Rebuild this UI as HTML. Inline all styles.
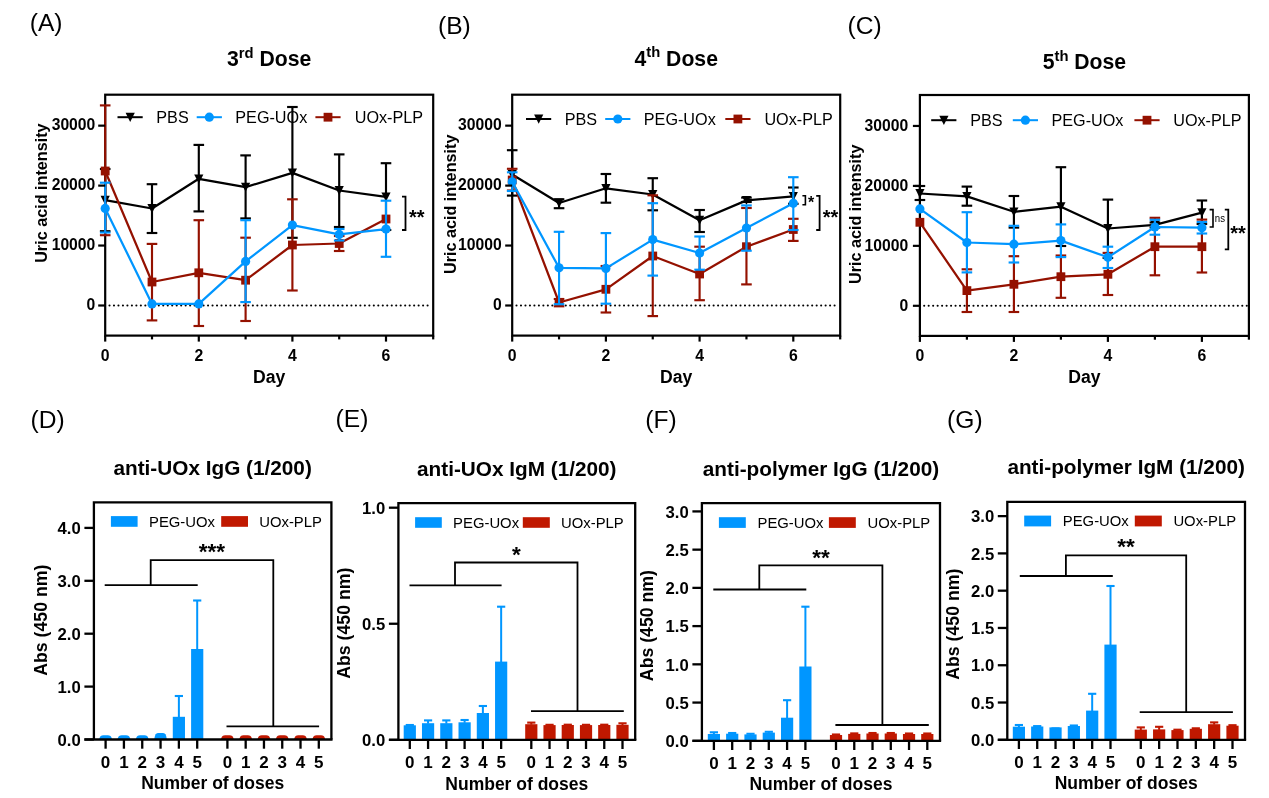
<!DOCTYPE html>
<html lang="en"><head><meta charset="utf-8"><title>Figure</title>
<style>html,body{margin:0;padding:0;background:#fff}svg{display:block}</style></head>
<body>
<svg width="1269" height="798" viewBox="0 0 1269 798" font-family='"Liberation Sans", sans-serif'>
<rect width="1269" height="798" fill="#fff"/>
<line x1="109.5" y1="305.5" x2="431.7" y2="305.5" stroke="#000" stroke-width="2.1" stroke-dasharray="0.01 4.47" stroke-linecap="round"/>
<rect x="105.2" y="94.7" width="328" height="240.9" fill="none" stroke="#000" stroke-width="2.2"/>
<line x1="105.2" y1="169" x2="105.2" y2="231.2" stroke="#000" stroke-width="2.15" />
<line x1="99.9" y1="169" x2="110.5" y2="169" stroke="#000" stroke-width="2.15" />
<line x1="99.9" y1="231.2" x2="110.5" y2="231.2" stroke="#000" stroke-width="2.15" />
<line x1="152" y1="184.2" x2="152" y2="233" stroke="#000" stroke-width="2.15" />
<line x1="146.7" y1="184.2" x2="157.3" y2="184.2" stroke="#000" stroke-width="2.15" />
<line x1="146.7" y1="233" x2="157.3" y2="233" stroke="#000" stroke-width="2.15" />
<line x1="198.8" y1="144.9" x2="198.8" y2="211.4" stroke="#000" stroke-width="2.15" />
<line x1="193.5" y1="144.9" x2="204.1" y2="144.9" stroke="#000" stroke-width="2.15" />
<line x1="193.5" y1="211.4" x2="204.1" y2="211.4" stroke="#000" stroke-width="2.15" />
<line x1="245.6" y1="155.4" x2="245.6" y2="218.4" stroke="#000" stroke-width="2.15" />
<line x1="240.3" y1="155.4" x2="250.9" y2="155.4" stroke="#000" stroke-width="2.15" />
<line x1="240.3" y1="218.4" x2="250.9" y2="218.4" stroke="#000" stroke-width="2.15" />
<line x1="292.4" y1="107" x2="292.4" y2="237.8" stroke="#000" stroke-width="2.15" />
<line x1="287.1" y1="107" x2="297.7" y2="107" stroke="#000" stroke-width="2.15" />
<line x1="287.1" y1="237.8" x2="297.7" y2="237.8" stroke="#000" stroke-width="2.15" />
<line x1="339.2" y1="154.4" x2="339.2" y2="227" stroke="#000" stroke-width="2.15" />
<line x1="333.9" y1="154.4" x2="344.5" y2="154.4" stroke="#000" stroke-width="2.15" />
<line x1="333.9" y1="227" x2="344.5" y2="227" stroke="#000" stroke-width="2.15" />
<line x1="386" y1="163.2" x2="386" y2="230" stroke="#000" stroke-width="2.15" />
<line x1="380.7" y1="163.2" x2="391.3" y2="163.2" stroke="#000" stroke-width="2.15" />
<line x1="380.7" y1="230" x2="391.3" y2="230" stroke="#000" stroke-width="2.15" />
<polyline points="105.2,200.2 152,208.5 198.8,178.8 245.6,187.1 292.4,172.9 339.2,190.5 386,196.9" fill="none" stroke="#000" stroke-width="2.25" stroke-linejoin="round"/>
<polygon points="100.6,195.8 109.8,195.8 105.2,204.9" fill="#000"/>
<polygon points="147.4,204.1 156.6,204.1 152,213.2" fill="#000"/>
<polygon points="194.2,174.4 203.4,174.4 198.8,183.5" fill="#000"/>
<polygon points="241,182.7 250.2,182.7 245.6,191.8" fill="#000"/>
<polygon points="287.8,168.5 297,168.5 292.4,177.6" fill="#000"/>
<polygon points="334.6,186.1 343.8,186.1 339.2,195.2" fill="#000"/>
<polygon points="381.4,192.5 390.6,192.5 386,201.6" fill="#000"/>
<line x1="105.2" y1="105.4" x2="105.2" y2="235.2" stroke="#941100" stroke-width="2.15" />
<line x1="99.9" y1="105.4" x2="110.5" y2="105.4" stroke="#941100" stroke-width="2.15" />
<line x1="99.9" y1="235.2" x2="110.5" y2="235.2" stroke="#941100" stroke-width="2.15" />
<line x1="152" y1="243.9" x2="152" y2="320.4" stroke="#941100" stroke-width="2.15" />
<line x1="146.7" y1="243.9" x2="157.3" y2="243.9" stroke="#941100" stroke-width="2.15" />
<line x1="146.7" y1="320.4" x2="157.3" y2="320.4" stroke="#941100" stroke-width="2.15" />
<line x1="198.8" y1="220.2" x2="198.8" y2="326" stroke="#941100" stroke-width="2.15" />
<line x1="193.5" y1="220.2" x2="204.1" y2="220.2" stroke="#941100" stroke-width="2.15" />
<line x1="193.5" y1="326" x2="204.1" y2="326" stroke="#941100" stroke-width="2.15" />
<line x1="245.6" y1="237.7" x2="245.6" y2="321" stroke="#941100" stroke-width="2.15" />
<line x1="240.3" y1="237.7" x2="250.9" y2="237.7" stroke="#941100" stroke-width="2.15" />
<line x1="240.3" y1="321" x2="250.9" y2="321" stroke="#941100" stroke-width="2.15" />
<line x1="292.4" y1="199.3" x2="292.4" y2="290.5" stroke="#941100" stroke-width="2.15" />
<line x1="287.1" y1="199.3" x2="297.7" y2="199.3" stroke="#941100" stroke-width="2.15" />
<line x1="287.1" y1="290.5" x2="297.7" y2="290.5" stroke="#941100" stroke-width="2.15" />
<line x1="339.2" y1="236" x2="339.2" y2="251" stroke="#941100" stroke-width="2.15" />
<line x1="333.9" y1="236" x2="344.5" y2="236" stroke="#941100" stroke-width="2.15" />
<line x1="333.9" y1="251" x2="344.5" y2="251" stroke="#941100" stroke-width="2.15" />
<polyline points="105.2,171 152,282 198.8,272.8 245.6,280.2 292.4,245 339.2,243.5 386,219" fill="none" stroke="#941100" stroke-width="2.25" stroke-linejoin="round"/>
<rect x="100.8" y="166.6" width="8.8" height="8.8" fill="#941100"/>
<rect x="147.6" y="277.6" width="8.8" height="8.8" fill="#941100"/>
<rect x="194.4" y="268.4" width="8.8" height="8.8" fill="#941100"/>
<rect x="241.2" y="275.8" width="8.8" height="8.8" fill="#941100"/>
<rect x="288" y="240.6" width="8.8" height="8.8" fill="#941100"/>
<rect x="334.8" y="239.1" width="8.8" height="8.8" fill="#941100"/>
<rect x="381.6" y="214.6" width="8.8" height="8.8" fill="#941100"/>
<line x1="105.2" y1="182.7" x2="105.2" y2="232.5" stroke="#0096ff" stroke-width="2.15" />
<line x1="99.9" y1="182.7" x2="110.5" y2="182.7" stroke="#0096ff" stroke-width="2.15" />
<line x1="99.9" y1="232.5" x2="110.5" y2="232.5" stroke="#0096ff" stroke-width="2.15" />
<line x1="245.6" y1="220.2" x2="245.6" y2="302.1" stroke="#0096ff" stroke-width="2.15" />
<line x1="240.3" y1="220.2" x2="250.9" y2="220.2" stroke="#0096ff" stroke-width="2.15" />
<line x1="240.3" y1="302.1" x2="250.9" y2="302.1" stroke="#0096ff" stroke-width="2.15" />
<line x1="339.2" y1="229" x2="339.2" y2="240.5" stroke="#0096ff" stroke-width="2.15" />
<line x1="333.9" y1="229" x2="344.5" y2="229" stroke="#0096ff" stroke-width="2.15" />
<line x1="333.9" y1="240.5" x2="344.5" y2="240.5" stroke="#0096ff" stroke-width="2.15" />
<line x1="386" y1="200.7" x2="386" y2="256.8" stroke="#0096ff" stroke-width="2.15" />
<line x1="380.7" y1="200.7" x2="391.3" y2="200.7" stroke="#0096ff" stroke-width="2.15" />
<line x1="380.7" y1="256.8" x2="391.3" y2="256.8" stroke="#0096ff" stroke-width="2.15" />
<polyline points="105.2,208.4 152,303.9 198.8,303.9 245.6,261.4 292.4,225.1 339.2,234.4 386,229.1" fill="none" stroke="#0096ff" stroke-width="2.25" stroke-linejoin="round"/>
<circle cx="105.2" cy="208.4" r="4.6" fill="#0096ff"/>
<circle cx="152" cy="303.9" r="4.6" fill="#0096ff"/>
<circle cx="198.8" cy="303.9" r="4.6" fill="#0096ff"/>
<circle cx="245.6" cy="261.4" r="4.6" fill="#0096ff"/>
<circle cx="292.4" cy="225.1" r="4.6" fill="#0096ff"/>
<circle cx="339.2" cy="234.4" r="4.6" fill="#0096ff"/>
<circle cx="386" cy="229.1" r="4.6" fill="#0096ff"/>
<line x1="98.2" y1="305.5" x2="105.2" y2="305.5" stroke="#000" stroke-width="2.2" />
<text x="95.3" y="310.2" font-size="15.7" text-anchor="end" fill="#000" font-weight="bold">0</text>
<line x1="98.2" y1="245.55" x2="105.2" y2="245.55" stroke="#000" stroke-width="2.2" />
<text x="95.3" y="250.25" font-size="15.7" text-anchor="end" fill="#000" font-weight="bold">10000</text>
<line x1="98.2" y1="185.6" x2="105.2" y2="185.6" stroke="#000" stroke-width="2.2" />
<text x="95.3" y="190.3" font-size="15.7" text-anchor="end" fill="#000" font-weight="bold">20000</text>
<line x1="98.2" y1="125.65" x2="105.2" y2="125.65" stroke="#000" stroke-width="2.2" />
<text x="95.3" y="130.35" font-size="15.7" text-anchor="end" fill="#000" font-weight="bold">30000</text>
<line x1="105.2" y1="335.6" x2="105.2" y2="341.6" stroke="#000" stroke-width="2.2" />
<text x="105.2" y="361.2" font-size="15.8" text-anchor="middle" fill="#000" font-weight="bold">0</text>
<line x1="152" y1="335.6" x2="152" y2="339.4" stroke="#000" stroke-width="2.2" />
<line x1="198.8" y1="335.6" x2="198.8" y2="341.6" stroke="#000" stroke-width="2.2" />
<text x="198.8" y="361.2" font-size="15.8" text-anchor="middle" fill="#000" font-weight="bold">2</text>
<line x1="245.6" y1="335.6" x2="245.6" y2="339.4" stroke="#000" stroke-width="2.2" />
<line x1="292.4" y1="335.6" x2="292.4" y2="341.6" stroke="#000" stroke-width="2.2" />
<text x="292.4" y="361.2" font-size="15.8" text-anchor="middle" fill="#000" font-weight="bold">4</text>
<line x1="339.2" y1="335.6" x2="339.2" y2="339.4" stroke="#000" stroke-width="2.2" />
<line x1="386" y1="335.6" x2="386" y2="341.6" stroke="#000" stroke-width="2.2" />
<text x="386" y="361.2" font-size="15.8" text-anchor="middle" fill="#000" font-weight="bold">6</text>
<line x1="433.2" y1="335.6" x2="433.2" y2="339.4" stroke="#000" stroke-width="2.2" />
<text x="269.2" y="382.7" font-size="17.6" text-anchor="middle" fill="#000" font-weight="bold">Day</text>
<text x="47" y="193.1" font-size="16.2" text-anchor="middle" fill="#000" font-weight="bold" transform="rotate(-90 47 193.1)">Uric acid intensity</text>
<text x="269.2" y="66" font-size="21.2" font-weight="bold" text-anchor="middle">3<tspan font-size="14.8" dy="-8.4">rd</tspan><tspan dy="8.4"> Dose</tspan></text>
<text x="29.7" y="30.6" font-size="24.6" text-anchor="start" fill="#000">(A)</text>
<line x1="117.5" y1="117.2" x2="142.7" y2="117.2" stroke="#000" stroke-width="2" />
<polygon points="125.6,112.8 134.8,112.8 130.2,121.9" fill="#000"/>
<text x="156.3" y="123" font-size="16.2" text-anchor="start" fill="#000">PBS</text>
<line x1="196.7" y1="117.2" x2="221.9" y2="117.2" stroke="#0096ff" stroke-width="2" />
<circle cx="209.3" cy="117.2" r="4.6" fill="#0096ff"/>
<text x="235.3" y="123" font-size="16.2" text-anchor="start" fill="#000">PEG-UOx</text>
<line x1="315.4" y1="117.2" x2="340.6" y2="117.2" stroke="#941100" stroke-width="2" />
<rect x="323.6" y="112.8" width="8.8" height="8.8" fill="#941100"/>
<text x="354.7" y="123" font-size="16.2" text-anchor="start" fill="#000">UOx-PLP</text>
<line x1="516.5" y1="305.5" x2="838.7" y2="305.5" stroke="#000" stroke-width="2.1" stroke-dasharray="0.01 4.47" stroke-linecap="round"/>
<rect x="512.2" y="94.7" width="328" height="240.9" fill="none" stroke="#000" stroke-width="2.2"/>
<line x1="512.2" y1="150.2" x2="512.2" y2="195.6" stroke="#000" stroke-width="2.15" />
<line x1="506.9" y1="150.2" x2="517.5" y2="150.2" stroke="#000" stroke-width="2.15" />
<line x1="506.9" y1="195.6" x2="517.5" y2="195.6" stroke="#000" stroke-width="2.15" />
<line x1="559.05" y1="199.3" x2="559.05" y2="208.2" stroke="#000" stroke-width="2.15" />
<line x1="553.75" y1="199.3" x2="564.35" y2="199.3" stroke="#000" stroke-width="2.15" />
<line x1="553.75" y1="208.2" x2="564.35" y2="208.2" stroke="#000" stroke-width="2.15" />
<line x1="605.9" y1="174" x2="605.9" y2="202.7" stroke="#000" stroke-width="2.15" />
<line x1="600.6" y1="174" x2="611.2" y2="174" stroke="#000" stroke-width="2.15" />
<line x1="600.6" y1="202.7" x2="611.2" y2="202.7" stroke="#000" stroke-width="2.15" />
<line x1="652.75" y1="178.2" x2="652.75" y2="210.3" stroke="#000" stroke-width="2.15" />
<line x1="647.45" y1="178.2" x2="658.05" y2="178.2" stroke="#000" stroke-width="2.15" />
<line x1="647.45" y1="210.3" x2="658.05" y2="210.3" stroke="#000" stroke-width="2.15" />
<line x1="699.6" y1="210" x2="699.6" y2="232" stroke="#000" stroke-width="2.15" />
<line x1="694.3" y1="210" x2="704.9" y2="210" stroke="#000" stroke-width="2.15" />
<line x1="694.3" y1="232" x2="704.9" y2="232" stroke="#000" stroke-width="2.15" />
<line x1="746.45" y1="197.6" x2="746.45" y2="202" stroke="#000" stroke-width="2.15" />
<line x1="741.15" y1="197.6" x2="751.75" y2="197.6" stroke="#000" stroke-width="2.15" />
<line x1="741.15" y1="202" x2="751.75" y2="202" stroke="#000" stroke-width="2.15" />
<line x1="793.3" y1="187.5" x2="793.3" y2="203.8" stroke="#000" stroke-width="2.15" />
<line x1="788" y1="187.5" x2="798.6" y2="187.5" stroke="#000" stroke-width="2.15" />
<line x1="788" y1="203.8" x2="798.6" y2="203.8" stroke="#000" stroke-width="2.15" />
<polyline points="512.2,174.5 559.05,203 605.9,188.3 652.75,194.5 699.6,220.2 746.45,200.4 793.3,196.4" fill="none" stroke="#000" stroke-width="2.25" stroke-linejoin="round"/>
<polygon points="507.6,170.1 516.8,170.1 512.2,179.2" fill="#000"/>
<polygon points="554.45,198.6 563.65,198.6 559.05,207.7" fill="#000"/>
<polygon points="601.3,183.9 610.5,183.9 605.9,193" fill="#000"/>
<polygon points="648.15,190.1 657.35,190.1 652.75,199.2" fill="#000"/>
<polygon points="695,215.8 704.2,215.8 699.6,224.9" fill="#000"/>
<polygon points="741.85,196 751.05,196 746.45,205.1" fill="#000"/>
<polygon points="788.7,192 797.9,192 793.3,201.1" fill="#000"/>
<line x1="512.2" y1="168.8" x2="512.2" y2="190.5" stroke="#941100" stroke-width="2.15" />
<line x1="506.9" y1="168.8" x2="517.5" y2="168.8" stroke="#941100" stroke-width="2.15" />
<line x1="506.9" y1="190.5" x2="517.5" y2="190.5" stroke="#941100" stroke-width="2.15" />
<line x1="559.05" y1="299" x2="559.05" y2="306.3" stroke="#941100" stroke-width="2.15" />
<line x1="553.75" y1="299" x2="564.35" y2="299" stroke="#941100" stroke-width="2.15" />
<line x1="553.75" y1="306.3" x2="564.35" y2="306.3" stroke="#941100" stroke-width="2.15" />
<line x1="605.9" y1="266" x2="605.9" y2="312.5" stroke="#941100" stroke-width="2.15" />
<line x1="600.6" y1="266" x2="611.2" y2="266" stroke="#941100" stroke-width="2.15" />
<line x1="600.6" y1="312.5" x2="611.2" y2="312.5" stroke="#941100" stroke-width="2.15" />
<line x1="652.75" y1="195.3" x2="652.75" y2="316.1" stroke="#941100" stroke-width="2.15" />
<line x1="647.45" y1="195.3" x2="658.05" y2="195.3" stroke="#941100" stroke-width="2.15" />
<line x1="647.45" y1="316.1" x2="658.05" y2="316.1" stroke="#941100" stroke-width="2.15" />
<line x1="699.6" y1="246.7" x2="699.6" y2="300.2" stroke="#941100" stroke-width="2.15" />
<line x1="694.3" y1="246.7" x2="704.9" y2="246.7" stroke="#941100" stroke-width="2.15" />
<line x1="694.3" y1="300.2" x2="704.9" y2="300.2" stroke="#941100" stroke-width="2.15" />
<line x1="746.45" y1="208" x2="746.45" y2="284.4" stroke="#941100" stroke-width="2.15" />
<line x1="741.15" y1="208" x2="751.75" y2="208" stroke="#941100" stroke-width="2.15" />
<line x1="741.15" y1="284.4" x2="751.75" y2="284.4" stroke="#941100" stroke-width="2.15" />
<line x1="793.3" y1="218.8" x2="793.3" y2="240.9" stroke="#941100" stroke-width="2.15" />
<line x1="788" y1="218.8" x2="798.6" y2="218.8" stroke="#941100" stroke-width="2.15" />
<line x1="788" y1="240.9" x2="798.6" y2="240.9" stroke="#941100" stroke-width="2.15" />
<polyline points="512.2,180 559.05,302.5 605.9,289.3 652.75,256 699.6,274 746.45,246.7 793.3,229.5" fill="none" stroke="#941100" stroke-width="2.25" stroke-linejoin="round"/>
<rect x="507.8" y="175.6" width="8.8" height="8.8" fill="#941100"/>
<rect x="554.65" y="298.1" width="8.8" height="8.8" fill="#941100"/>
<rect x="601.5" y="284.9" width="8.8" height="8.8" fill="#941100"/>
<rect x="648.35" y="251.6" width="8.8" height="8.8" fill="#941100"/>
<rect x="695.2" y="269.6" width="8.8" height="8.8" fill="#941100"/>
<rect x="742.05" y="242.3" width="8.8" height="8.8" fill="#941100"/>
<rect x="788.9" y="225.1" width="8.8" height="8.8" fill="#941100"/>
<line x1="512.2" y1="172.3" x2="512.2" y2="191" stroke="#0096ff" stroke-width="2.15" />
<line x1="506.9" y1="172.3" x2="517.5" y2="172.3" stroke="#0096ff" stroke-width="2.15" />
<line x1="506.9" y1="191" x2="517.5" y2="191" stroke="#0096ff" stroke-width="2.15" />
<line x1="559.05" y1="231.8" x2="559.05" y2="304.2" stroke="#0096ff" stroke-width="2.15" />
<line x1="553.75" y1="231.8" x2="564.35" y2="231.8" stroke="#0096ff" stroke-width="2.15" />
<line x1="553.75" y1="304.2" x2="564.35" y2="304.2" stroke="#0096ff" stroke-width="2.15" />
<line x1="605.9" y1="233.1" x2="605.9" y2="303.7" stroke="#0096ff" stroke-width="2.15" />
<line x1="600.6" y1="233.1" x2="611.2" y2="233.1" stroke="#0096ff" stroke-width="2.15" />
<line x1="600.6" y1="303.7" x2="611.2" y2="303.7" stroke="#0096ff" stroke-width="2.15" />
<line x1="652.75" y1="203.2" x2="652.75" y2="275.6" stroke="#0096ff" stroke-width="2.15" />
<line x1="647.45" y1="203.2" x2="658.05" y2="203.2" stroke="#0096ff" stroke-width="2.15" />
<line x1="647.45" y1="275.6" x2="658.05" y2="275.6" stroke="#0096ff" stroke-width="2.15" />
<line x1="699.6" y1="236.5" x2="699.6" y2="269.7" stroke="#0096ff" stroke-width="2.15" />
<line x1="694.3" y1="236.5" x2="704.9" y2="236.5" stroke="#0096ff" stroke-width="2.15" />
<line x1="694.3" y1="269.7" x2="704.9" y2="269.7" stroke="#0096ff" stroke-width="2.15" />
<line x1="746.45" y1="205.4" x2="746.45" y2="250.7" stroke="#0096ff" stroke-width="2.15" />
<line x1="741.15" y1="205.4" x2="751.75" y2="205.4" stroke="#0096ff" stroke-width="2.15" />
<line x1="741.15" y1="250.7" x2="751.75" y2="250.7" stroke="#0096ff" stroke-width="2.15" />
<line x1="793.3" y1="177.2" x2="793.3" y2="230" stroke="#0096ff" stroke-width="2.15" />
<line x1="788" y1="177.2" x2="798.6" y2="177.2" stroke="#0096ff" stroke-width="2.15" />
<line x1="788" y1="230" x2="798.6" y2="230" stroke="#0096ff" stroke-width="2.15" />
<polyline points="512.2,181.8 559.05,267.8 605.9,268.4 652.75,239.6 699.6,253 746.45,228 793.3,203.3" fill="none" stroke="#0096ff" stroke-width="2.25" stroke-linejoin="round"/>
<circle cx="512.2" cy="181.8" r="4.6" fill="#0096ff"/>
<circle cx="559.05" cy="267.8" r="4.6" fill="#0096ff"/>
<circle cx="605.9" cy="268.4" r="4.6" fill="#0096ff"/>
<circle cx="652.75" cy="239.6" r="4.6" fill="#0096ff"/>
<circle cx="699.6" cy="253" r="4.6" fill="#0096ff"/>
<circle cx="746.45" cy="228" r="4.6" fill="#0096ff"/>
<circle cx="793.3" cy="203.3" r="4.6" fill="#0096ff"/>
<line x1="505.2" y1="305.5" x2="512.2" y2="305.5" stroke="#000" stroke-width="2.2" />
<text x="501.7" y="310.2" font-size="15.7" text-anchor="end" fill="#000" font-weight="bold">0</text>
<line x1="505.2" y1="245.55" x2="512.2" y2="245.55" stroke="#000" stroke-width="2.2" />
<text x="501.7" y="250.25" font-size="15.7" text-anchor="end" fill="#000" font-weight="bold">10000</text>
<line x1="505.2" y1="185.6" x2="512.2" y2="185.6" stroke="#000" stroke-width="2.2" />
<text x="501.7" y="190.3" font-size="15.7" text-anchor="end" fill="#000" font-weight="bold">20000</text>
<line x1="505.2" y1="125.65" x2="512.2" y2="125.65" stroke="#000" stroke-width="2.2" />
<text x="501.7" y="130.35" font-size="15.7" text-anchor="end" fill="#000" font-weight="bold">30000</text>
<line x1="512.2" y1="335.6" x2="512.2" y2="341.6" stroke="#000" stroke-width="2.2" />
<text x="512.2" y="361.2" font-size="15.8" text-anchor="middle" fill="#000" font-weight="bold">0</text>
<line x1="559.05" y1="335.6" x2="559.05" y2="339.4" stroke="#000" stroke-width="2.2" />
<line x1="605.9" y1="335.6" x2="605.9" y2="341.6" stroke="#000" stroke-width="2.2" />
<text x="605.9" y="361.2" font-size="15.8" text-anchor="middle" fill="#000" font-weight="bold">2</text>
<line x1="652.75" y1="335.6" x2="652.75" y2="339.4" stroke="#000" stroke-width="2.2" />
<line x1="699.6" y1="335.6" x2="699.6" y2="341.6" stroke="#000" stroke-width="2.2" />
<text x="699.6" y="361.2" font-size="15.8" text-anchor="middle" fill="#000" font-weight="bold">4</text>
<line x1="746.45" y1="335.6" x2="746.45" y2="339.4" stroke="#000" stroke-width="2.2" />
<line x1="793.3" y1="335.6" x2="793.3" y2="341.6" stroke="#000" stroke-width="2.2" />
<text x="793.3" y="361.2" font-size="15.8" text-anchor="middle" fill="#000" font-weight="bold">6</text>
<line x1="840.2" y1="335.6" x2="840.2" y2="339.4" stroke="#000" stroke-width="2.2" />
<text x="676.2" y="382.7" font-size="17.6" text-anchor="middle" fill="#000" font-weight="bold">Day</text>
<text x="456.4" y="204.3" font-size="16.2" text-anchor="middle" fill="#000" font-weight="bold" transform="rotate(-90 456.4 204.3)">Uric acid intensity</text>
<text x="676.2" y="65.6" font-size="21.2" font-weight="bold" text-anchor="middle">4<tspan font-size="14.8" dy="-8.4">th</tspan><tspan dy="8.4"> Dose</tspan></text>
<text x="438" y="33.5" font-size="24.6" text-anchor="start" fill="#000">(B)</text>
<line x1="526" y1="119" x2="551.2" y2="119" stroke="#000" stroke-width="2" />
<polygon points="534.1,114.6 543.3,114.6 538.7,123.7" fill="#000"/>
<text x="564.7" y="124.8" font-size="16.2" text-anchor="start" fill="#000">PBS</text>
<line x1="605.2" y1="119" x2="630.4" y2="119" stroke="#0096ff" stroke-width="2" />
<circle cx="617.8" cy="119" r="4.6" fill="#0096ff"/>
<text x="643.8" y="124.8" font-size="16.2" text-anchor="start" fill="#000">PEG-UOx</text>
<line x1="725.3" y1="119" x2="750.5" y2="119" stroke="#941100" stroke-width="2" />
<rect x="733.5" y="114.6" width="8.8" height="8.8" fill="#941100"/>
<text x="764.4" y="124.8" font-size="16.2" text-anchor="start" fill="#000">UOx-PLP</text>
<line x1="924.2" y1="305.8" x2="1247.4" y2="305.8" stroke="#000" stroke-width="2.1" stroke-dasharray="0.01 4.47" stroke-linecap="round"/>
<rect x="919.9" y="95" width="329" height="240.9" fill="none" stroke="#000" stroke-width="2.2"/>
<line x1="919.9" y1="186" x2="919.9" y2="200" stroke="#000" stroke-width="2.15" />
<line x1="914.6" y1="186" x2="925.2" y2="186" stroke="#000" stroke-width="2.15" />
<line x1="914.6" y1="200" x2="925.2" y2="200" stroke="#000" stroke-width="2.15" />
<line x1="966.9" y1="186.6" x2="966.9" y2="205.7" stroke="#000" stroke-width="2.15" />
<line x1="961.6" y1="186.6" x2="972.2" y2="186.6" stroke="#000" stroke-width="2.15" />
<line x1="961.6" y1="205.7" x2="972.2" y2="205.7" stroke="#000" stroke-width="2.15" />
<line x1="1013.9" y1="196" x2="1013.9" y2="227.6" stroke="#000" stroke-width="2.15" />
<line x1="1008.6" y1="196" x2="1019.2" y2="196" stroke="#000" stroke-width="2.15" />
<line x1="1008.6" y1="227.6" x2="1019.2" y2="227.6" stroke="#000" stroke-width="2.15" />
<line x1="1060.9" y1="167.2" x2="1060.9" y2="246" stroke="#000" stroke-width="2.15" />
<line x1="1055.6" y1="167.2" x2="1066.2" y2="167.2" stroke="#000" stroke-width="2.15" />
<line x1="1055.6" y1="246" x2="1066.2" y2="246" stroke="#000" stroke-width="2.15" />
<line x1="1107.9" y1="199.6" x2="1107.9" y2="258" stroke="#000" stroke-width="2.15" />
<line x1="1102.6" y1="199.6" x2="1113.2" y2="199.6" stroke="#000" stroke-width="2.15" />
<line x1="1102.6" y1="258" x2="1113.2" y2="258" stroke="#000" stroke-width="2.15" />
<line x1="1154.9" y1="222.5" x2="1154.9" y2="227.5" stroke="#000" stroke-width="2.15" />
<line x1="1149.6" y1="222.5" x2="1160.2" y2="222.5" stroke="#000" stroke-width="2.15" />
<line x1="1149.6" y1="227.5" x2="1160.2" y2="227.5" stroke="#000" stroke-width="2.15" />
<line x1="1201.9" y1="200.5" x2="1201.9" y2="224" stroke="#000" stroke-width="2.15" />
<line x1="1196.6" y1="200.5" x2="1207.2" y2="200.5" stroke="#000" stroke-width="2.15" />
<line x1="1196.6" y1="224" x2="1207.2" y2="224" stroke="#000" stroke-width="2.15" />
<polyline points="919.9,193.5 966.9,196.4 1013.9,211.8 1060.9,206.7 1107.9,228.5 1154.9,224.8 1201.9,212.6" fill="none" stroke="#000" stroke-width="2.25" stroke-linejoin="round"/>
<polygon points="915.3,189.1 924.5,189.1 919.9,198.2" fill="#000"/>
<polygon points="962.3,192 971.5,192 966.9,201.1" fill="#000"/>
<polygon points="1009.3,207.4 1018.5,207.4 1013.9,216.5" fill="#000"/>
<polygon points="1056.3,202.3 1065.5,202.3 1060.9,211.4" fill="#000"/>
<polygon points="1103.3,224.1 1112.5,224.1 1107.9,233.2" fill="#000"/>
<polygon points="1150.3,220.4 1159.5,220.4 1154.9,229.5" fill="#000"/>
<polygon points="1197.3,208.2 1206.5,208.2 1201.9,217.3" fill="#000"/>
<line x1="966.9" y1="269.3" x2="966.9" y2="312" stroke="#941100" stroke-width="2.15" />
<line x1="961.6" y1="269.3" x2="972.2" y2="269.3" stroke="#941100" stroke-width="2.15" />
<line x1="961.6" y1="312" x2="972.2" y2="312" stroke="#941100" stroke-width="2.15" />
<line x1="1013.9" y1="256.2" x2="1013.9" y2="312" stroke="#941100" stroke-width="2.15" />
<line x1="1008.6" y1="256.2" x2="1019.2" y2="256.2" stroke="#941100" stroke-width="2.15" />
<line x1="1008.6" y1="312" x2="1019.2" y2="312" stroke="#941100" stroke-width="2.15" />
<line x1="1060.9" y1="255.5" x2="1060.9" y2="297.8" stroke="#941100" stroke-width="2.15" />
<line x1="1055.6" y1="255.5" x2="1066.2" y2="255.5" stroke="#941100" stroke-width="2.15" />
<line x1="1055.6" y1="297.8" x2="1066.2" y2="297.8" stroke="#941100" stroke-width="2.15" />
<line x1="1107.9" y1="252.9" x2="1107.9" y2="295" stroke="#941100" stroke-width="2.15" />
<line x1="1102.6" y1="252.9" x2="1113.2" y2="252.9" stroke="#941100" stroke-width="2.15" />
<line x1="1102.6" y1="295" x2="1113.2" y2="295" stroke="#941100" stroke-width="2.15" />
<line x1="1154.9" y1="217.8" x2="1154.9" y2="275.3" stroke="#941100" stroke-width="2.15" />
<line x1="1149.6" y1="217.8" x2="1160.2" y2="217.8" stroke="#941100" stroke-width="2.15" />
<line x1="1149.6" y1="275.3" x2="1160.2" y2="275.3" stroke="#941100" stroke-width="2.15" />
<line x1="1201.9" y1="219.6" x2="1201.9" y2="272.5" stroke="#941100" stroke-width="2.15" />
<line x1="1196.6" y1="219.6" x2="1207.2" y2="219.6" stroke="#941100" stroke-width="2.15" />
<line x1="1196.6" y1="272.5" x2="1207.2" y2="272.5" stroke="#941100" stroke-width="2.15" />
<polyline points="919.9,222.3 966.9,290.6 1013.9,284.3 1060.9,276.7 1107.9,274.3 1154.9,246.7 1201.9,246.7" fill="none" stroke="#941100" stroke-width="2.25" stroke-linejoin="round"/>
<rect x="915.5" y="217.9" width="8.8" height="8.8" fill="#941100"/>
<rect x="962.5" y="286.2" width="8.8" height="8.8" fill="#941100"/>
<rect x="1009.5" y="279.9" width="8.8" height="8.8" fill="#941100"/>
<rect x="1056.5" y="272.3" width="8.8" height="8.8" fill="#941100"/>
<rect x="1103.5" y="269.9" width="8.8" height="8.8" fill="#941100"/>
<rect x="1150.5" y="242.3" width="8.8" height="8.8" fill="#941100"/>
<rect x="1197.5" y="242.3" width="8.8" height="8.8" fill="#941100"/>
<line x1="966.9" y1="212.2" x2="966.9" y2="272.4" stroke="#0096ff" stroke-width="2.15" />
<line x1="961.6" y1="212.2" x2="972.2" y2="212.2" stroke="#0096ff" stroke-width="2.15" />
<line x1="961.6" y1="272.4" x2="972.2" y2="272.4" stroke="#0096ff" stroke-width="2.15" />
<line x1="1013.9" y1="225.8" x2="1013.9" y2="262.5" stroke="#0096ff" stroke-width="2.15" />
<line x1="1008.6" y1="225.8" x2="1019.2" y2="225.8" stroke="#0096ff" stroke-width="2.15" />
<line x1="1008.6" y1="262.5" x2="1019.2" y2="262.5" stroke="#0096ff" stroke-width="2.15" />
<line x1="1060.9" y1="224.4" x2="1060.9" y2="257.1" stroke="#0096ff" stroke-width="2.15" />
<line x1="1055.6" y1="224.4" x2="1066.2" y2="224.4" stroke="#0096ff" stroke-width="2.15" />
<line x1="1055.6" y1="257.1" x2="1066.2" y2="257.1" stroke="#0096ff" stroke-width="2.15" />
<line x1="1107.9" y1="246.7" x2="1107.9" y2="268" stroke="#0096ff" stroke-width="2.15" />
<line x1="1102.6" y1="246.7" x2="1113.2" y2="246.7" stroke="#0096ff" stroke-width="2.15" />
<line x1="1102.6" y1="268" x2="1113.2" y2="268" stroke="#0096ff" stroke-width="2.15" />
<line x1="1154.9" y1="219.8" x2="1154.9" y2="234.7" stroke="#0096ff" stroke-width="2.15" />
<line x1="1149.6" y1="219.8" x2="1160.2" y2="219.8" stroke="#0096ff" stroke-width="2.15" />
<line x1="1149.6" y1="234.7" x2="1160.2" y2="234.7" stroke="#0096ff" stroke-width="2.15" />
<line x1="1201.9" y1="222" x2="1201.9" y2="233.5" stroke="#0096ff" stroke-width="2.15" />
<line x1="1196.6" y1="222" x2="1207.2" y2="222" stroke="#0096ff" stroke-width="2.15" />
<line x1="1196.6" y1="233.5" x2="1207.2" y2="233.5" stroke="#0096ff" stroke-width="2.15" />
<polyline points="919.9,208.9 966.9,242.5 1013.9,244.2 1060.9,240.6 1107.9,257.3 1154.9,227 1201.9,227.7" fill="none" stroke="#0096ff" stroke-width="2.25" stroke-linejoin="round"/>
<circle cx="919.9" cy="208.9" r="4.6" fill="#0096ff"/>
<circle cx="966.9" cy="242.5" r="4.6" fill="#0096ff"/>
<circle cx="1013.9" cy="244.2" r="4.6" fill="#0096ff"/>
<circle cx="1060.9" cy="240.6" r="4.6" fill="#0096ff"/>
<circle cx="1107.9" cy="257.3" r="4.6" fill="#0096ff"/>
<circle cx="1154.9" cy="227" r="4.6" fill="#0096ff"/>
<circle cx="1201.9" cy="227.7" r="4.6" fill="#0096ff"/>
<line x1="912.9" y1="305.8" x2="919.9" y2="305.8" stroke="#000" stroke-width="2.2" />
<text x="908.2" y="310.5" font-size="15.7" text-anchor="end" fill="#000" font-weight="bold">0</text>
<line x1="912.9" y1="245.85" x2="919.9" y2="245.85" stroke="#000" stroke-width="2.2" />
<text x="908.2" y="250.55" font-size="15.7" text-anchor="end" fill="#000" font-weight="bold">10000</text>
<line x1="912.9" y1="185.9" x2="919.9" y2="185.9" stroke="#000" stroke-width="2.2" />
<text x="908.2" y="190.6" font-size="15.7" text-anchor="end" fill="#000" font-weight="bold">20000</text>
<line x1="912.9" y1="125.95" x2="919.9" y2="125.95" stroke="#000" stroke-width="2.2" />
<text x="908.2" y="130.65" font-size="15.7" text-anchor="end" fill="#000" font-weight="bold">30000</text>
<line x1="919.9" y1="335.9" x2="919.9" y2="341.9" stroke="#000" stroke-width="2.2" />
<text x="919.9" y="361.2" font-size="15.8" text-anchor="middle" fill="#000" font-weight="bold">0</text>
<line x1="966.9" y1="335.9" x2="966.9" y2="339.7" stroke="#000" stroke-width="2.2" />
<line x1="1013.9" y1="335.9" x2="1013.9" y2="341.9" stroke="#000" stroke-width="2.2" />
<text x="1013.9" y="361.2" font-size="15.8" text-anchor="middle" fill="#000" font-weight="bold">2</text>
<line x1="1060.9" y1="335.9" x2="1060.9" y2="339.7" stroke="#000" stroke-width="2.2" />
<line x1="1107.9" y1="335.9" x2="1107.9" y2="341.9" stroke="#000" stroke-width="2.2" />
<text x="1107.9" y="361.2" font-size="15.8" text-anchor="middle" fill="#000" font-weight="bold">4</text>
<line x1="1154.9" y1="335.9" x2="1154.9" y2="339.7" stroke="#000" stroke-width="2.2" />
<line x1="1201.9" y1="335.9" x2="1201.9" y2="341.9" stroke="#000" stroke-width="2.2" />
<text x="1201.9" y="361.2" font-size="15.8" text-anchor="middle" fill="#000" font-weight="bold">6</text>
<line x1="1248.9" y1="335.9" x2="1248.9" y2="339.7" stroke="#000" stroke-width="2.2" />
<text x="1084.4" y="382.7" font-size="17.6" text-anchor="middle" fill="#000" font-weight="bold">Day</text>
<text x="860.6" y="214.3" font-size="16.2" text-anchor="middle" fill="#000" font-weight="bold" transform="rotate(-90 860.6 214.3)">Uric acid intensity</text>
<text x="1084.4" y="69" font-size="21.2" font-weight="bold" text-anchor="middle">5<tspan font-size="14.8" dy="-8.4">th</tspan><tspan dy="8.4"> Dose</tspan></text>
<text x="847.5" y="33.5" font-size="24.6" text-anchor="start" fill="#000">(C)</text>
<line x1="931.2" y1="120.2" x2="956.4" y2="120.2" stroke="#000" stroke-width="2" />
<polygon points="939.3,115.8 948.5,115.8 943.9,124.9" fill="#000"/>
<text x="970.2" y="126" font-size="16.2" text-anchor="start" fill="#000">PBS</text>
<line x1="1012.8" y1="120.2" x2="1038" y2="120.2" stroke="#0096ff" stroke-width="2" />
<circle cx="1025.4" cy="120.2" r="4.6" fill="#0096ff"/>
<text x="1051.5" y="126" font-size="16.2" text-anchor="start" fill="#000">PEG-UOx</text>
<line x1="1134.4" y1="120.2" x2="1159.6" y2="120.2" stroke="#941100" stroke-width="2" />
<rect x="1142.6" y="115.8" width="8.8" height="8.8" fill="#941100"/>
<text x="1173.2" y="126" font-size="16.2" text-anchor="start" fill="#000">UOx-PLP</text>
<path d="M402,196.6 H405.5 V230 H402" fill="none" stroke="#000" stroke-width="1.8"/>
<text x="416.7" y="223.9" font-size="20" text-anchor="middle" fill="#000" font-weight="bold">**</text>
<path d="M802.4,195.8 H805.4 V204.8 H802.4" fill="none" stroke="#000" stroke-width="1.6"/>
<text x="811.2" y="207.9" font-size="16" text-anchor="middle" fill="#000" font-weight="bold">*</text>
<path d="M816.2,195.8 H819.6 V230 H816.2" fill="none" stroke="#000" stroke-width="1.8"/>
<text x="830.5" y="223.7" font-size="20" text-anchor="middle" fill="#000" font-weight="bold">**</text>
<path d="M1209.6,209.6 H1213 V227 H1209.6" fill="none" stroke="#000" stroke-width="1.6"/>
<text x="1214.8" y="222.1" font-size="11.5" text-anchor="start" fill="#000" textLength="10.2" lengthAdjust="spacingAndGlyphs">ns</text>
<path d="M1224.8,209.6 H1228.3 V249.3 H1224.8" fill="none" stroke="#000" stroke-width="1.8"/>
<text x="1238" y="239.9" font-size="20" text-anchor="middle" fill="#000" font-weight="bold">**</text>
<path d="M99.5,739.5 V738.3 Q100.1,735.3 103.4,735.3 H107.8 Q111.1,735.3 111.7,738.3 V739.5 Z" fill="#0096ff"/>
<path d="M117.82,739.5 V738.3 Q118.42,735.3 121.72,735.3 H126.12 Q129.42,735.3 130.02,738.3 V739.5 Z" fill="#0096ff"/>
<path d="M136.14,739.5 V738.3 Q136.74,735.3 140.04,735.3 H144.44 Q147.74,735.3 148.34,738.3 V739.5 Z" fill="#0096ff"/>
<path d="M154.46,739.5 V738.3 Q155.06,732.9 158.36,732.9 H162.76 Q166.06,732.9 166.66,738.3 V739.5 Z" fill="#0096ff"/>
<line x1="178.88" y1="696" x2="178.88" y2="717.3" stroke="#0096ff" stroke-width="2" />
<line x1="174.78" y1="696" x2="182.98" y2="696" stroke="#0096ff" stroke-width="2.1" />
<rect x="172.78" y="716.8" width="12.2" height="22.7" fill="#0096ff"/>
<line x1="197.2" y1="600.5" x2="197.2" y2="649.5" stroke="#0096ff" stroke-width="2" />
<line x1="193.1" y1="600.5" x2="201.3" y2="600.5" stroke="#0096ff" stroke-width="2.1" />
<rect x="191.1" y="649" width="12.2" height="90.5" fill="#0096ff"/>
<path d="M221.3,739.5 V738.3 Q221.9,735.3 225.2,735.3 H229.6 Q232.9,735.3 233.5,738.3 V739.5 Z" fill="#c01800"/>
<path d="M239.58,739.5 V738.3 Q240.18,735.3 243.48,735.3 H247.88 Q251.18,735.3 251.78,738.3 V739.5 Z" fill="#c01800"/>
<path d="M257.86,739.5 V738.3 Q258.46,735.3 261.76,735.3 H266.16 Q269.46,735.3 270.06,738.3 V739.5 Z" fill="#c01800"/>
<path d="M276.14,739.5 V738.3 Q276.74,735.3 280.04,735.3 H284.44 Q287.74,735.3 288.34,738.3 V739.5 Z" fill="#c01800"/>
<path d="M294.42,739.5 V738.3 Q295.02,735.3 298.32,735.3 H302.72 Q306.02,735.3 306.62,738.3 V739.5 Z" fill="#c01800"/>
<path d="M312.7,739.5 V738.3 Q313.3,735.3 316.6,735.3 H321 Q324.3,735.3 324.9,738.3 V739.5 Z" fill="#c01800"/>
<polyline points="93.9,739.5 93.9,502.3 331.4,502.3 331.4,739.5" fill="none" stroke="#000" stroke-width="2.3"/>
<line x1="84.4" y1="739.5" x2="332.55" y2="739.5" stroke="#000" stroke-width="2.3" />
<line x1="84.4" y1="739.5" x2="93.9" y2="739.5" stroke="#000" stroke-width="2.3" />
<text x="80.8" y="745.7" font-size="16.7" text-anchor="end" fill="#000" font-weight="bold">0.0</text>
<line x1="84.4" y1="686.6" x2="93.9" y2="686.6" stroke="#000" stroke-width="2.3" />
<text x="80.8" y="692.8" font-size="16.7" text-anchor="end" fill="#000" font-weight="bold">1.0</text>
<line x1="84.4" y1="633.7" x2="93.9" y2="633.7" stroke="#000" stroke-width="2.3" />
<text x="80.8" y="639.9" font-size="16.7" text-anchor="end" fill="#000" font-weight="bold">2.0</text>
<line x1="84.4" y1="580.8" x2="93.9" y2="580.8" stroke="#000" stroke-width="2.3" />
<text x="80.8" y="587" font-size="16.7" text-anchor="end" fill="#000" font-weight="bold">3.0</text>
<line x1="84.4" y1="527.9" x2="93.9" y2="527.9" stroke="#000" stroke-width="2.3" />
<text x="80.8" y="534.1" font-size="16.7" text-anchor="end" fill="#000" font-weight="bold">4.0</text>
<line x1="105.6" y1="739.5" x2="105.6" y2="748.7" stroke="#000" stroke-width="2.3" />
<text x="105.6" y="768.4" font-size="17" text-anchor="middle" fill="#000" font-weight="bold">0</text>
<line x1="123.92" y1="739.5" x2="123.92" y2="748.7" stroke="#000" stroke-width="2.3" />
<text x="123.92" y="768.4" font-size="17" text-anchor="middle" fill="#000" font-weight="bold">1</text>
<line x1="142.24" y1="739.5" x2="142.24" y2="748.7" stroke="#000" stroke-width="2.3" />
<text x="142.24" y="768.4" font-size="17" text-anchor="middle" fill="#000" font-weight="bold">2</text>
<line x1="160.56" y1="739.5" x2="160.56" y2="748.7" stroke="#000" stroke-width="2.3" />
<text x="160.56" y="768.4" font-size="17" text-anchor="middle" fill="#000" font-weight="bold">3</text>
<line x1="178.88" y1="739.5" x2="178.88" y2="748.7" stroke="#000" stroke-width="2.3" />
<text x="178.88" y="768.4" font-size="17" text-anchor="middle" fill="#000" font-weight="bold">4</text>
<line x1="197.2" y1="739.5" x2="197.2" y2="748.7" stroke="#000" stroke-width="2.3" />
<text x="197.2" y="768.4" font-size="17" text-anchor="middle" fill="#000" font-weight="bold">5</text>
<line x1="227.4" y1="739.5" x2="227.4" y2="748.7" stroke="#000" stroke-width="2.3" />
<text x="227.4" y="768.4" font-size="17" text-anchor="middle" fill="#000" font-weight="bold">0</text>
<line x1="245.68" y1="739.5" x2="245.68" y2="748.7" stroke="#000" stroke-width="2.3" />
<text x="245.68" y="768.4" font-size="17" text-anchor="middle" fill="#000" font-weight="bold">1</text>
<line x1="263.96" y1="739.5" x2="263.96" y2="748.7" stroke="#000" stroke-width="2.3" />
<text x="263.96" y="768.4" font-size="17" text-anchor="middle" fill="#000" font-weight="bold">2</text>
<line x1="282.24" y1="739.5" x2="282.24" y2="748.7" stroke="#000" stroke-width="2.3" />
<text x="282.24" y="768.4" font-size="17" text-anchor="middle" fill="#000" font-weight="bold">3</text>
<line x1="300.52" y1="739.5" x2="300.52" y2="748.7" stroke="#000" stroke-width="2.3" />
<text x="300.52" y="768.4" font-size="17" text-anchor="middle" fill="#000" font-weight="bold">4</text>
<line x1="318.8" y1="739.5" x2="318.8" y2="748.7" stroke="#000" stroke-width="2.3" />
<text x="318.8" y="768.4" font-size="17" text-anchor="middle" fill="#000" font-weight="bold">5</text>
<text x="212.65" y="789" font-size="17.5" text-anchor="middle" fill="#000" font-weight="bold">Number of doses</text>
<text transform="translate(47 620.2) scale(1.08 1) rotate(-90)" font-size="17.7" font-weight="bold" text-anchor="middle">Abs (450 nm)</text>
<text x="212.65" y="475" font-size="20.75" text-anchor="middle" fill="#000" font-weight="bold">anti-UOx IgG (1/200)</text>
<text x="30.6" y="427.5" font-size="24.6" text-anchor="start" fill="#000">(D)</text>
<rect x="110.9" y="516.1" width="26.7" height="10.7" fill="#0096ff"/>
<text x="149" y="526.6" font-size="14.85" text-anchor="start" fill="#000">PEG-UOx</text>
<rect x="221.2" y="516.1" width="26.8" height="10.7" fill="#c01800"/>
<text x="259.2" y="526.6" font-size="14.85" text-anchor="start" fill="#000">UOx-PLP</text>
<path d="M104.7,585.1 H197.7 M150.7,585.1 V560.2 H273.3 V726.3 M226.5,726.3 H319.1" fill="none" stroke="#000" stroke-width="1.8" stroke-linejoin="miter"/>
<text x="212" y="559.1" font-size="22.5" text-anchor="middle" fill="#000" font-weight="bold">***</text>
<line x1="409.8" y1="725" x2="409.8" y2="725.8" stroke="#0096ff" stroke-width="2" />
<line x1="405.7" y1="725" x2="413.9" y2="725" stroke="#0096ff" stroke-width="2.1" />
<rect x="403.7" y="725.3" width="12.2" height="14.5" fill="#0096ff"/>
<line x1="428.07" y1="720.4" x2="428.07" y2="723.7" stroke="#0096ff" stroke-width="2" />
<line x1="423.97" y1="720.4" x2="432.17" y2="720.4" stroke="#0096ff" stroke-width="2.1" />
<rect x="421.97" y="723.2" width="12.2" height="16.6" fill="#0096ff"/>
<line x1="446.34" y1="720.4" x2="446.34" y2="723.7" stroke="#0096ff" stroke-width="2" />
<line x1="442.24" y1="720.4" x2="450.44" y2="720.4" stroke="#0096ff" stroke-width="2.1" />
<rect x="440.24" y="723.2" width="12.2" height="16.6" fill="#0096ff"/>
<line x1="464.61" y1="720" x2="464.61" y2="722.8" stroke="#0096ff" stroke-width="2" />
<line x1="460.51" y1="720" x2="468.71" y2="720" stroke="#0096ff" stroke-width="2.1" />
<rect x="458.51" y="722.3" width="12.2" height="17.5" fill="#0096ff"/>
<line x1="482.88" y1="706" x2="482.88" y2="713.5" stroke="#0096ff" stroke-width="2" />
<line x1="478.78" y1="706" x2="486.98" y2="706" stroke="#0096ff" stroke-width="2.1" />
<rect x="476.78" y="713" width="12.2" height="26.8" fill="#0096ff"/>
<line x1="501.15" y1="606.7" x2="501.15" y2="662.1" stroke="#0096ff" stroke-width="2" />
<line x1="497.05" y1="606.7" x2="505.25" y2="606.7" stroke="#0096ff" stroke-width="2.1" />
<rect x="495.05" y="661.6" width="12.2" height="78.2" fill="#0096ff"/>
<line x1="531.3" y1="722.6" x2="531.3" y2="724.7" stroke="#c01800" stroke-width="2" />
<line x1="527.2" y1="722.6" x2="535.4" y2="722.6" stroke="#c01800" stroke-width="2.1" />
<rect x="525.2" y="724.2" width="12.2" height="15.6" fill="#c01800"/>
<line x1="549.54" y1="724.8" x2="549.54" y2="725.6" stroke="#c01800" stroke-width="2" />
<line x1="545.44" y1="724.8" x2="553.64" y2="724.8" stroke="#c01800" stroke-width="2.1" />
<rect x="543.44" y="725.1" width="12.2" height="14.7" fill="#c01800"/>
<line x1="567.78" y1="724.7" x2="567.78" y2="725.5" stroke="#c01800" stroke-width="2" />
<line x1="563.68" y1="724.7" x2="571.88" y2="724.7" stroke="#c01800" stroke-width="2.1" />
<rect x="561.68" y="725" width="12.2" height="14.8" fill="#c01800"/>
<line x1="586.02" y1="724.8" x2="586.02" y2="725.6" stroke="#c01800" stroke-width="2" />
<line x1="581.92" y1="724.8" x2="590.12" y2="724.8" stroke="#c01800" stroke-width="2.1" />
<rect x="579.92" y="725.1" width="12.2" height="14.7" fill="#c01800"/>
<line x1="604.26" y1="724.7" x2="604.26" y2="725.5" stroke="#c01800" stroke-width="2" />
<line x1="600.16" y1="724.7" x2="608.36" y2="724.7" stroke="#c01800" stroke-width="2.1" />
<rect x="598.16" y="725" width="12.2" height="14.8" fill="#c01800"/>
<line x1="622.5" y1="723.3" x2="622.5" y2="725.3" stroke="#c01800" stroke-width="2" />
<line x1="618.4" y1="723.3" x2="626.6" y2="723.3" stroke="#c01800" stroke-width="2.1" />
<rect x="616.4" y="724.8" width="12.2" height="15" fill="#c01800"/>
<polyline points="398.4,739.8 398.4,503.2 635.2,503.2 635.2,739.8" fill="none" stroke="#000" stroke-width="2.3"/>
<line x1="388.9" y1="739.8" x2="636.35" y2="739.8" stroke="#000" stroke-width="2.3" />
<line x1="388.9" y1="739.8" x2="398.4" y2="739.8" stroke="#000" stroke-width="2.3" />
<text x="385.3" y="746" font-size="16.7" text-anchor="end" fill="#000" font-weight="bold">0.0</text>
<line x1="388.9" y1="623.75" x2="398.4" y2="623.75" stroke="#000" stroke-width="2.3" />
<text x="385.3" y="629.95" font-size="16.7" text-anchor="end" fill="#000" font-weight="bold">0.5</text>
<line x1="388.9" y1="507.7" x2="398.4" y2="507.7" stroke="#000" stroke-width="2.3" />
<text x="385.3" y="513.9" font-size="16.7" text-anchor="end" fill="#000" font-weight="bold">1.0</text>
<line x1="409.8" y1="739.8" x2="409.8" y2="749" stroke="#000" stroke-width="2.3" />
<text x="409.8" y="768.4" font-size="17" text-anchor="middle" fill="#000" font-weight="bold">0</text>
<line x1="428.07" y1="739.8" x2="428.07" y2="749" stroke="#000" stroke-width="2.3" />
<text x="428.07" y="768.4" font-size="17" text-anchor="middle" fill="#000" font-weight="bold">1</text>
<line x1="446.34" y1="739.8" x2="446.34" y2="749" stroke="#000" stroke-width="2.3" />
<text x="446.34" y="768.4" font-size="17" text-anchor="middle" fill="#000" font-weight="bold">2</text>
<line x1="464.61" y1="739.8" x2="464.61" y2="749" stroke="#000" stroke-width="2.3" />
<text x="464.61" y="768.4" font-size="17" text-anchor="middle" fill="#000" font-weight="bold">3</text>
<line x1="482.88" y1="739.8" x2="482.88" y2="749" stroke="#000" stroke-width="2.3" />
<text x="482.88" y="768.4" font-size="17" text-anchor="middle" fill="#000" font-weight="bold">4</text>
<line x1="501.15" y1="739.8" x2="501.15" y2="749" stroke="#000" stroke-width="2.3" />
<text x="501.15" y="768.4" font-size="17" text-anchor="middle" fill="#000" font-weight="bold">5</text>
<line x1="531.3" y1="739.8" x2="531.3" y2="749" stroke="#000" stroke-width="2.3" />
<text x="531.3" y="768.4" font-size="17" text-anchor="middle" fill="#000" font-weight="bold">0</text>
<line x1="549.54" y1="739.8" x2="549.54" y2="749" stroke="#000" stroke-width="2.3" />
<text x="549.54" y="768.4" font-size="17" text-anchor="middle" fill="#000" font-weight="bold">1</text>
<line x1="567.78" y1="739.8" x2="567.78" y2="749" stroke="#000" stroke-width="2.3" />
<text x="567.78" y="768.4" font-size="17" text-anchor="middle" fill="#000" font-weight="bold">2</text>
<line x1="586.02" y1="739.8" x2="586.02" y2="749" stroke="#000" stroke-width="2.3" />
<text x="586.02" y="768.4" font-size="17" text-anchor="middle" fill="#000" font-weight="bold">3</text>
<line x1="604.26" y1="739.8" x2="604.26" y2="749" stroke="#000" stroke-width="2.3" />
<text x="604.26" y="768.4" font-size="17" text-anchor="middle" fill="#000" font-weight="bold">4</text>
<line x1="622.5" y1="739.8" x2="622.5" y2="749" stroke="#000" stroke-width="2.3" />
<text x="622.5" y="768.4" font-size="17" text-anchor="middle" fill="#000" font-weight="bold">5</text>
<text x="516.8" y="789.5" font-size="17.5" text-anchor="middle" fill="#000" font-weight="bold">Number of doses</text>
<text transform="translate(350 623.2) scale(1.08 1) rotate(-90)" font-size="17.7" font-weight="bold" text-anchor="middle">Abs (450 nm)</text>
<text x="516.8" y="475.8" font-size="20.75" text-anchor="middle" fill="#000" font-weight="bold">anti-UOx IgM (1/200)</text>
<text x="335.6" y="427.3" font-size="24.6" text-anchor="start" fill="#000">(E)</text>
<rect x="415.1" y="517.2" width="26.7" height="10.6" fill="#0096ff"/>
<text x="453.1" y="527.6" font-size="14.85" text-anchor="start" fill="#000">PEG-UOx</text>
<rect x="522.8" y="517.2" width="27" height="10.6" fill="#c01800"/>
<text x="561" y="527.6" font-size="14.85" text-anchor="start" fill="#000">UOx-PLP</text>
<path d="M409.5,585.3 H501.6 M455,585.3 V562.5 H577.5 V711.2 M531,711.2 H623.8" fill="none" stroke="#000" stroke-width="1.8" stroke-linejoin="miter"/>
<text x="516.3" y="562.3" font-size="22.5" text-anchor="middle" fill="#000" font-weight="bold">*</text>
<line x1="713.9" y1="732.3" x2="713.9" y2="734.5" stroke="#0096ff" stroke-width="2" />
<line x1="709.8" y1="732.3" x2="718" y2="732.3" stroke="#0096ff" stroke-width="2.1" />
<rect x="707.8" y="734" width="12.2" height="6.8" fill="#0096ff"/>
<line x1="732.2" y1="733" x2="732.2" y2="734.2" stroke="#0096ff" stroke-width="2" />
<line x1="728.1" y1="733" x2="736.3" y2="733" stroke="#0096ff" stroke-width="2.1" />
<rect x="726.1" y="733.7" width="12.2" height="7.1" fill="#0096ff"/>
<line x1="750.5" y1="733.8" x2="750.5" y2="734.9" stroke="#0096ff" stroke-width="2" />
<line x1="746.4" y1="733.8" x2="754.6" y2="733.8" stroke="#0096ff" stroke-width="2.1" />
<rect x="744.4" y="734.4" width="12.2" height="6.4" fill="#0096ff"/>
<line x1="768.8" y1="731.8" x2="768.8" y2="733.1" stroke="#0096ff" stroke-width="2" />
<line x1="764.7" y1="731.8" x2="772.9" y2="731.8" stroke="#0096ff" stroke-width="2.1" />
<rect x="762.7" y="732.6" width="12.2" height="8.2" fill="#0096ff"/>
<line x1="787.1" y1="700.2" x2="787.1" y2="718.2" stroke="#0096ff" stroke-width="2" />
<line x1="783" y1="700.2" x2="791.2" y2="700.2" stroke="#0096ff" stroke-width="2.1" />
<rect x="781" y="717.7" width="12.2" height="23.1" fill="#0096ff"/>
<line x1="805.4" y1="606.7" x2="805.4" y2="667" stroke="#0096ff" stroke-width="2" />
<line x1="801.3" y1="606.7" x2="809.5" y2="606.7" stroke="#0096ff" stroke-width="2.1" />
<rect x="799.3" y="666.5" width="12.2" height="74.3" fill="#0096ff"/>
<line x1="836" y1="734.5" x2="836" y2="735.5" stroke="#c01800" stroke-width="2" />
<line x1="831.9" y1="734.5" x2="840.1" y2="734.5" stroke="#c01800" stroke-width="2.1" />
<rect x="829.9" y="735" width="12.2" height="5.8" fill="#c01800"/>
<line x1="854.26" y1="733.4" x2="854.26" y2="734.4" stroke="#c01800" stroke-width="2" />
<line x1="850.16" y1="733.4" x2="858.36" y2="733.4" stroke="#c01800" stroke-width="2.1" />
<rect x="848.16" y="733.9" width="12.2" height="6.9" fill="#c01800"/>
<line x1="872.52" y1="733" x2="872.52" y2="734" stroke="#c01800" stroke-width="2" />
<line x1="868.42" y1="733" x2="876.62" y2="733" stroke="#c01800" stroke-width="2.1" />
<rect x="866.42" y="733.5" width="12.2" height="7.3" fill="#c01800"/>
<line x1="890.78" y1="733" x2="890.78" y2="734" stroke="#c01800" stroke-width="2" />
<line x1="886.68" y1="733" x2="894.88" y2="733" stroke="#c01800" stroke-width="2.1" />
<rect x="884.68" y="733.5" width="12.2" height="7.3" fill="#c01800"/>
<line x1="909.04" y1="733.5" x2="909.04" y2="734.5" stroke="#c01800" stroke-width="2" />
<line x1="904.94" y1="733.5" x2="913.14" y2="733.5" stroke="#c01800" stroke-width="2.1" />
<rect x="902.94" y="734" width="12.2" height="6.8" fill="#c01800"/>
<line x1="927.3" y1="733.5" x2="927.3" y2="734.5" stroke="#c01800" stroke-width="2" />
<line x1="923.2" y1="733.5" x2="931.4" y2="733.5" stroke="#c01800" stroke-width="2.1" />
<rect x="921.2" y="734" width="12.2" height="6.8" fill="#c01800"/>
<polyline points="701.9,740.8 701.9,503.2 940,503.2 940,740.8" fill="none" stroke="#000" stroke-width="2.3"/>
<line x1="692.4" y1="740.8" x2="941.15" y2="740.8" stroke="#000" stroke-width="2.3" />
<line x1="692.4" y1="740.8" x2="701.9" y2="740.8" stroke="#000" stroke-width="2.3" />
<text x="688.8" y="747" font-size="16.7" text-anchor="end" fill="#000" font-weight="bold">0.0</text>
<line x1="692.4" y1="702.57" x2="701.9" y2="702.57" stroke="#000" stroke-width="2.3" />
<text x="688.8" y="708.77" font-size="16.7" text-anchor="end" fill="#000" font-weight="bold">0.5</text>
<line x1="692.4" y1="664.34" x2="701.9" y2="664.34" stroke="#000" stroke-width="2.3" />
<text x="688.8" y="670.54" font-size="16.7" text-anchor="end" fill="#000" font-weight="bold">1.0</text>
<line x1="692.4" y1="626.11" x2="701.9" y2="626.11" stroke="#000" stroke-width="2.3" />
<text x="688.8" y="632.31" font-size="16.7" text-anchor="end" fill="#000" font-weight="bold">1.5</text>
<line x1="692.4" y1="587.88" x2="701.9" y2="587.88" stroke="#000" stroke-width="2.3" />
<text x="688.8" y="594.08" font-size="16.7" text-anchor="end" fill="#000" font-weight="bold">2.0</text>
<line x1="692.4" y1="549.65" x2="701.9" y2="549.65" stroke="#000" stroke-width="2.3" />
<text x="688.8" y="555.85" font-size="16.7" text-anchor="end" fill="#000" font-weight="bold">2.5</text>
<line x1="692.4" y1="511.42" x2="701.9" y2="511.42" stroke="#000" stroke-width="2.3" />
<text x="688.8" y="517.62" font-size="16.7" text-anchor="end" fill="#000" font-weight="bold">3.0</text>
<line x1="713.9" y1="740.8" x2="713.9" y2="750" stroke="#000" stroke-width="2.3" />
<text x="713.9" y="769.4" font-size="17" text-anchor="middle" fill="#000" font-weight="bold">0</text>
<line x1="732.2" y1="740.8" x2="732.2" y2="750" stroke="#000" stroke-width="2.3" />
<text x="732.2" y="769.4" font-size="17" text-anchor="middle" fill="#000" font-weight="bold">1</text>
<line x1="750.5" y1="740.8" x2="750.5" y2="750" stroke="#000" stroke-width="2.3" />
<text x="750.5" y="769.4" font-size="17" text-anchor="middle" fill="#000" font-weight="bold">2</text>
<line x1="768.8" y1="740.8" x2="768.8" y2="750" stroke="#000" stroke-width="2.3" />
<text x="768.8" y="769.4" font-size="17" text-anchor="middle" fill="#000" font-weight="bold">3</text>
<line x1="787.1" y1="740.8" x2="787.1" y2="750" stroke="#000" stroke-width="2.3" />
<text x="787.1" y="769.4" font-size="17" text-anchor="middle" fill="#000" font-weight="bold">4</text>
<line x1="805.4" y1="740.8" x2="805.4" y2="750" stroke="#000" stroke-width="2.3" />
<text x="805.4" y="769.4" font-size="17" text-anchor="middle" fill="#000" font-weight="bold">5</text>
<line x1="836" y1="740.8" x2="836" y2="750" stroke="#000" stroke-width="2.3" />
<text x="836" y="769.4" font-size="17" text-anchor="middle" fill="#000" font-weight="bold">0</text>
<line x1="854.26" y1="740.8" x2="854.26" y2="750" stroke="#000" stroke-width="2.3" />
<text x="854.26" y="769.4" font-size="17" text-anchor="middle" fill="#000" font-weight="bold">1</text>
<line x1="872.52" y1="740.8" x2="872.52" y2="750" stroke="#000" stroke-width="2.3" />
<text x="872.52" y="769.4" font-size="17" text-anchor="middle" fill="#000" font-weight="bold">2</text>
<line x1="890.78" y1="740.8" x2="890.78" y2="750" stroke="#000" stroke-width="2.3" />
<text x="890.78" y="769.4" font-size="17" text-anchor="middle" fill="#000" font-weight="bold">3</text>
<line x1="909.04" y1="740.8" x2="909.04" y2="750" stroke="#000" stroke-width="2.3" />
<text x="909.04" y="769.4" font-size="17" text-anchor="middle" fill="#000" font-weight="bold">4</text>
<line x1="927.3" y1="740.8" x2="927.3" y2="750" stroke="#000" stroke-width="2.3" />
<text x="927.3" y="769.4" font-size="17" text-anchor="middle" fill="#000" font-weight="bold">5</text>
<text x="820.95" y="790.2" font-size="17.5" text-anchor="middle" fill="#000" font-weight="bold">Number of doses</text>
<text transform="translate(652.6 625.6) scale(1.08 1) rotate(-90)" font-size="17.7" font-weight="bold" text-anchor="middle">Abs (450 nm)</text>
<text x="820.95" y="476.2" font-size="20.75" text-anchor="middle" fill="#000" font-weight="bold">anti-polymer IgG (1/200)</text>
<text x="645.3" y="427.6" font-size="24.6" text-anchor="start" fill="#000">(F)</text>
<rect x="718.9" y="517.2" width="26.9" height="10.7" fill="#0096ff"/>
<text x="757.5" y="527.7" font-size="14.85" text-anchor="start" fill="#000">PEG-UOx</text>
<rect x="828.9" y="517.2" width="26.9" height="10.7" fill="#c01800"/>
<text x="867.5" y="527.7" font-size="14.85" text-anchor="start" fill="#000">UOx-PLP</text>
<path d="M713.3,589.5 H806.3 M759.3,589.5 V565.4 H882.4 V725 M835.4,725 H928.8" fill="none" stroke="#000" stroke-width="1.8" stroke-linejoin="miter"/>
<text x="821" y="564.7" font-size="22.5" text-anchor="middle" fill="#000" font-weight="bold">**</text>
<line x1="1018.9" y1="725" x2="1018.9" y2="727.2" stroke="#0096ff" stroke-width="2" />
<line x1="1014.8" y1="725" x2="1023" y2="725" stroke="#0096ff" stroke-width="2.1" />
<rect x="1012.8" y="726.7" width="12.2" height="13.1" fill="#0096ff"/>
<line x1="1037.22" y1="726.1" x2="1037.22" y2="727" stroke="#0096ff" stroke-width="2" />
<line x1="1033.12" y1="726.1" x2="1041.32" y2="726.1" stroke="#0096ff" stroke-width="2.1" />
<rect x="1031.12" y="726.5" width="12.2" height="13.3" fill="#0096ff"/>
<line x1="1055.54" y1="728.4" x2="1055.54" y2="727.9" stroke="#0096ff" stroke-width="2" />
<line x1="1051.44" y1="728.4" x2="1059.64" y2="728.4" stroke="#0096ff" stroke-width="2.1" />
<rect x="1049.44" y="727.4" width="12.2" height="12.4" fill="#0096ff"/>
<line x1="1073.86" y1="725.5" x2="1073.86" y2="726.5" stroke="#0096ff" stroke-width="2" />
<line x1="1069.76" y1="725.5" x2="1077.96" y2="725.5" stroke="#0096ff" stroke-width="2.1" />
<rect x="1067.76" y="726" width="12.2" height="13.8" fill="#0096ff"/>
<line x1="1092.18" y1="693.8" x2="1092.18" y2="711.1" stroke="#0096ff" stroke-width="2" />
<line x1="1088.08" y1="693.8" x2="1096.28" y2="693.8" stroke="#0096ff" stroke-width="2.1" />
<rect x="1086.08" y="710.6" width="12.2" height="29.2" fill="#0096ff"/>
<line x1="1110.5" y1="586" x2="1110.5" y2="645.1" stroke="#0096ff" stroke-width="2" />
<line x1="1106.4" y1="586" x2="1114.6" y2="586" stroke="#0096ff" stroke-width="2.1" />
<rect x="1104.4" y="644.6" width="12.2" height="95.2" fill="#0096ff"/>
<line x1="1140.8" y1="727.4" x2="1140.8" y2="730.1" stroke="#c01800" stroke-width="2" />
<line x1="1136.7" y1="727.4" x2="1144.9" y2="727.4" stroke="#c01800" stroke-width="2.1" />
<rect x="1134.7" y="729.6" width="12.2" height="10.2" fill="#c01800"/>
<line x1="1159.14" y1="726.8" x2="1159.14" y2="729.9" stroke="#c01800" stroke-width="2" />
<line x1="1155.04" y1="726.8" x2="1163.24" y2="726.8" stroke="#c01800" stroke-width="2.1" />
<rect x="1153.04" y="729.4" width="12.2" height="10.4" fill="#c01800"/>
<line x1="1177.48" y1="729.7" x2="1177.48" y2="730.6" stroke="#c01800" stroke-width="2" />
<line x1="1173.38" y1="729.7" x2="1181.58" y2="729.7" stroke="#c01800" stroke-width="2.1" />
<rect x="1171.38" y="730.1" width="12.2" height="9.7" fill="#c01800"/>
<line x1="1195.82" y1="728.3" x2="1195.82" y2="729.3" stroke="#c01800" stroke-width="2" />
<line x1="1191.72" y1="728.3" x2="1199.92" y2="728.3" stroke="#c01800" stroke-width="2.1" />
<rect x="1189.72" y="728.8" width="12.2" height="11" fill="#c01800"/>
<line x1="1214.16" y1="722.4" x2="1214.16" y2="724.7" stroke="#c01800" stroke-width="2" />
<line x1="1210.06" y1="722.4" x2="1218.26" y2="722.4" stroke="#c01800" stroke-width="2.1" />
<rect x="1208.06" y="724.2" width="12.2" height="15.6" fill="#c01800"/>
<line x1="1232.5" y1="725.2" x2="1232.5" y2="726.2" stroke="#c01800" stroke-width="2" />
<line x1="1228.4" y1="725.2" x2="1236.6" y2="725.2" stroke="#c01800" stroke-width="2.1" />
<rect x="1226.4" y="725.7" width="12.2" height="14.1" fill="#c01800"/>
<polyline points="1007.3,739.8 1007.3,501.9 1245,501.9 1245,739.8" fill="none" stroke="#000" stroke-width="2.3"/>
<line x1="997.8" y1="739.8" x2="1246.15" y2="739.8" stroke="#000" stroke-width="2.3" />
<line x1="997.8" y1="739.8" x2="1007.3" y2="739.8" stroke="#000" stroke-width="2.3" />
<text x="994.2" y="746" font-size="16.7" text-anchor="end" fill="#000" font-weight="bold">0.0</text>
<line x1="997.8" y1="702.52" x2="1007.3" y2="702.52" stroke="#000" stroke-width="2.3" />
<text x="994.2" y="708.72" font-size="16.7" text-anchor="end" fill="#000" font-weight="bold">0.5</text>
<line x1="997.8" y1="665.24" x2="1007.3" y2="665.24" stroke="#000" stroke-width="2.3" />
<text x="994.2" y="671.44" font-size="16.7" text-anchor="end" fill="#000" font-weight="bold">1.0</text>
<line x1="997.8" y1="627.96" x2="1007.3" y2="627.96" stroke="#000" stroke-width="2.3" />
<text x="994.2" y="634.16" font-size="16.7" text-anchor="end" fill="#000" font-weight="bold">1.5</text>
<line x1="997.8" y1="590.68" x2="1007.3" y2="590.68" stroke="#000" stroke-width="2.3" />
<text x="994.2" y="596.88" font-size="16.7" text-anchor="end" fill="#000" font-weight="bold">2.0</text>
<line x1="997.8" y1="553.4" x2="1007.3" y2="553.4" stroke="#000" stroke-width="2.3" />
<text x="994.2" y="559.6" font-size="16.7" text-anchor="end" fill="#000" font-weight="bold">2.5</text>
<line x1="997.8" y1="516.12" x2="1007.3" y2="516.12" stroke="#000" stroke-width="2.3" />
<text x="994.2" y="522.32" font-size="16.7" text-anchor="end" fill="#000" font-weight="bold">3.0</text>
<line x1="1018.9" y1="739.8" x2="1018.9" y2="749" stroke="#000" stroke-width="2.3" />
<text x="1018.9" y="768.3" font-size="17" text-anchor="middle" fill="#000" font-weight="bold">0</text>
<line x1="1037.22" y1="739.8" x2="1037.22" y2="749" stroke="#000" stroke-width="2.3" />
<text x="1037.22" y="768.3" font-size="17" text-anchor="middle" fill="#000" font-weight="bold">1</text>
<line x1="1055.54" y1="739.8" x2="1055.54" y2="749" stroke="#000" stroke-width="2.3" />
<text x="1055.54" y="768.3" font-size="17" text-anchor="middle" fill="#000" font-weight="bold">2</text>
<line x1="1073.86" y1="739.8" x2="1073.86" y2="749" stroke="#000" stroke-width="2.3" />
<text x="1073.86" y="768.3" font-size="17" text-anchor="middle" fill="#000" font-weight="bold">3</text>
<line x1="1092.18" y1="739.8" x2="1092.18" y2="749" stroke="#000" stroke-width="2.3" />
<text x="1092.18" y="768.3" font-size="17" text-anchor="middle" fill="#000" font-weight="bold">4</text>
<line x1="1110.5" y1="739.8" x2="1110.5" y2="749" stroke="#000" stroke-width="2.3" />
<text x="1110.5" y="768.3" font-size="17" text-anchor="middle" fill="#000" font-weight="bold">5</text>
<line x1="1140.8" y1="739.8" x2="1140.8" y2="749" stroke="#000" stroke-width="2.3" />
<text x="1140.8" y="768.3" font-size="17" text-anchor="middle" fill="#000" font-weight="bold">0</text>
<line x1="1159.14" y1="739.8" x2="1159.14" y2="749" stroke="#000" stroke-width="2.3" />
<text x="1159.14" y="768.3" font-size="17" text-anchor="middle" fill="#000" font-weight="bold">1</text>
<line x1="1177.48" y1="739.8" x2="1177.48" y2="749" stroke="#000" stroke-width="2.3" />
<text x="1177.48" y="768.3" font-size="17" text-anchor="middle" fill="#000" font-weight="bold">2</text>
<line x1="1195.82" y1="739.8" x2="1195.82" y2="749" stroke="#000" stroke-width="2.3" />
<text x="1195.82" y="768.3" font-size="17" text-anchor="middle" fill="#000" font-weight="bold">3</text>
<line x1="1214.16" y1="739.8" x2="1214.16" y2="749" stroke="#000" stroke-width="2.3" />
<text x="1214.16" y="768.3" font-size="17" text-anchor="middle" fill="#000" font-weight="bold">4</text>
<line x1="1232.5" y1="739.8" x2="1232.5" y2="749" stroke="#000" stroke-width="2.3" />
<text x="1232.5" y="768.3" font-size="17" text-anchor="middle" fill="#000" font-weight="bold">5</text>
<text x="1126.15" y="789.1" font-size="17.5" text-anchor="middle" fill="#000" font-weight="bold">Number of doses</text>
<text transform="translate(958.5 624.2) scale(1.08 1) rotate(-90)" font-size="17.7" font-weight="bold" text-anchor="middle">Abs (450 nm)</text>
<text x="1126.15" y="474.3" font-size="20.75" text-anchor="middle" fill="#000" font-weight="bold">anti-polymer IgM (1/200)</text>
<text x="947.1" y="427.6" font-size="24.6" text-anchor="start" fill="#000">(G)</text>
<rect x="1024.2" y="515.6" width="26.9" height="10.8" fill="#0096ff"/>
<text x="1062.8" y="526.2" font-size="14.85" text-anchor="start" fill="#000">PEG-UOx</text>
<rect x="1134.8" y="515.6" width="27" height="10.8" fill="#c01800"/>
<text x="1173.4" y="526.2" font-size="14.85" text-anchor="start" fill="#000">UOx-PLP</text>
<path d="M1019.8,576 H1112.8 M1065.9,576 V555.3 H1186.2 V712.2 M1139.7,712.2 H1232.9" fill="none" stroke="#000" stroke-width="1.8" stroke-linejoin="miter"/>
<text x="1126" y="554.4" font-size="22.5" text-anchor="middle" fill="#000" font-weight="bold">**</text>
</svg>
</body></html>
